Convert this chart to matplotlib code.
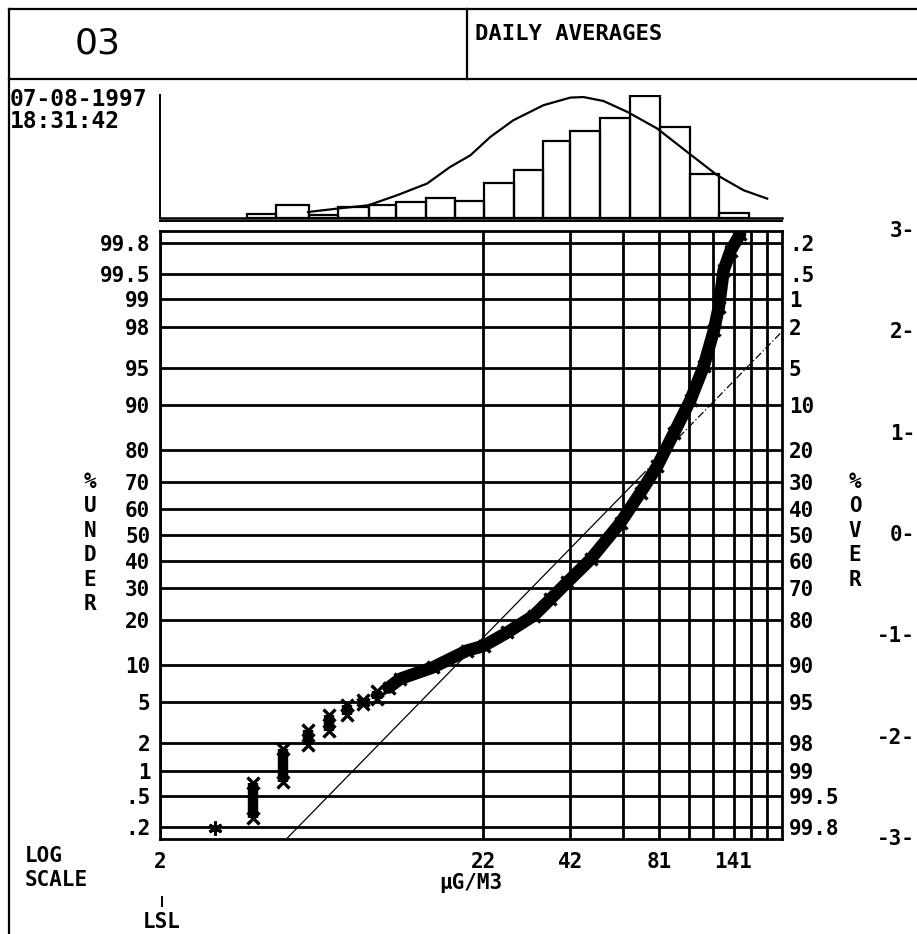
import numpy as np
import matplotlib
matplotlib.use("Agg")
import matplotlib.pyplot as plt
import matplotlib.transforms as mtransforms
from matplotlib.lines import Line2D
from statistics import NormalDist

# ---- data ----
# probability axis (% under) and the matching % over labels
under_ticks = [0.2, 0.5, 1, 2, 5, 10, 20, 30, 40, 50, 60, 70, 80, 90, 95, 98, 99, 99.5, 99.8]
under_labels = [".2", ".5", "1", "2", "5", "10", "20", "30", "40", "50", "60", "70",
                "80", "90", "95", "98", "99", "99.5", "99.8"]
over_labels = ["99.8", "99.5", "99", "98", "95", "90", "80", "70", "60", "50", "40",
               "30", "20", "10", "5", "2", "1", ".5", ".2"]
z_labels = ["3-", "2-", "1-", "0-", "-1-", "-2-", "-3-"]
z_values = [3, 2, 1, 0, -1, -2, -3]

# concentration axis (log)
x_grid = [2, 22, 42, 62, 81, 101, 121, 141, 161, 181]
x_labels = ["2", "22", "42", "", "81", "", "", "141", "", ""]
x_min, x_max = 2, 202

# low values: several days with the same value (vertical stacks)
single_value, single_pct = 3, 0.19
stack_values = [4, 5, 6, 7, 8, 9, 10]
stack_lo = [0.26, 0.74, 1.89, 2.65, 3.75, 4.8, 5.3]
stack_hi = [0.71, 1.74, 2.69, 3.8, 4.7, 5.2, 6.2]

# rest of the sorted daily averages (band of markers)
band_values = [10.9, 11.9, 15.2, 19.5, 22.1, 26.3, 32.0, 36.2, 41.0, 48.8, 61.0, 70.7,
               80.0, 90.6, 102.5, 113, 122, 126.5, 131, 138, 148]
band_pct = [6.6, 7.8, 9.6, 12.7, 13.7, 16.8, 21.3, 26.3, 32.0, 40.5, 54.9, 66.2,
            75.1, 84.3, 90.9, 95.2, 97.86, 98.79, 99.55, 99.75, 99.85]

# fitted lognormal line (solid part, then dash-dot part)
fit_values = [5.15, 70.7, 203]
fit_pct = [0.14, 71.8, 97.8]

# histogram of daily averages (% of days per class)
hist_edges = [3.81, 4.73, 6.02, 7.52, 9.40, 11.5, 14.4, 17.9, 22.1, 27.6, 34.3, 41.8,
              52.3, 65.3, 81.6, 102, 127, 158]
hist_pct = [0.6, 1.9, 0.4, 1.5, 1.9, 2.3, 2.8, 2.4, 5.0, 6.8, 10.9, 12.4, 14.2,
            17.3, 12.9, 6.2, 0.7]

# density curve drawn over the histogram
curve_values = [6.0, 7.43, 9.38, 11.6, 14.5, 17.2, 20.0, 23.2, 27.5, 34.4, 42.0, 46.3,
                53.7, 64.2, 80.1, 100, 125, 152, 181]
curve_pct = [0.85, 1.33, 1.8, 3.22, 4.88, 7.23, 8.89, 11.5, 13.86, 16.0, 17.08, 17.16,
             16.6, 15.04, 12.68, 9.36, 6.06, 3.93, 2.75]

# ---- normal probability scale ----
nd = NormalDist()
_ppf = np.vectorize(lambda p: nd.inv_cdf(min(max(p, 1e-9), 1 - 1e-9)), otypes=[float])
_cdf = np.vectorize(nd.cdf, otypes=[float])


def fwd(pct):
    return _ppf(np.asarray(pct, dtype=float) / 100.0)


def inv(z):
    return 100.0 * _cdf(np.asarray(z, dtype=float))


W, H = 917, 934
fig = plt.figure(figsize=(W / 100, H / 100), dpi=100)
FONT = dict(family="DejaVu Sans Mono", weight="bold")


def fx(x):
    return x / W


def fy(y):
    return 1 - y / H


LW = 2.0
ax = fig.add_axes([fx(160), fy(839), fx(782) - fx(160), fy(231) - fy(839)])
ax.set_xscale("log")
ax.set_yscale("function", functions=(fwd, inv))
ax.set_xlim(x_min, x_max)
ylo, yhi = float(inv(-3)), float(inv(3))
ax.set_ylim(ylo, yhi)

ax.set_xticks(x_grid, labels=x_labels)
ax.set_yticks(under_ticks, labels=under_labels)
ax.minorticks_off()
ax.tick_params(length=0, labelsize=15)
ax.tick_params(axis="x", pad=9)
ax.tick_params(axis="y", pad=7)
for lab in ax.get_xticklabels() + ax.get_yticklabels():
    lab.set_fontfamily(FONT["family"])
    lab.set_fontweight(FONT["weight"])
ax.grid(True, color="black", linewidth=LW)
ax.set_axisbelow(True)
for sp in ax.spines.values():
    sp.set_linewidth(LW)

ax2 = ax.twinx()
ax2.set_yscale("function", functions=(fwd, inv))
ax2.set_ylim(ylo, yhi)
ax2.set_yticks(under_ticks, labels=over_labels)
ax2.minorticks_off()
ax2.tick_params(length=0, labelsize=15, pad=5)
for lab in ax2.get_yticklabels():
    lab.set_fontfamily(FONT["family"])
    lab.set_fontweight(FONT["weight"])
for sp in ax2.spines.values():
    sp.set_visible(False)

# fitted line
ax.plot(fit_values[:2], fit_pct[:2], color="black", lw=0.9, zorder=3)
ax.plot(fit_values[1:], fit_pct[1:], color="black", lw=0.9, ls=(0, (6, 2, 1, 2)), zorder=3)

# data markers
ax.plot([single_value], [single_pct], ls="none", marker=(6, 2, 0), ms=10, mew=2.2,
        color="black", zorder=4)
for v, lo, hi in zip(stack_values, stack_lo, stack_hi):
    ax.plot([v, v], [lo, hi], color="black", lw=7.5, solid_capstyle="butt", zorder=4)
    ax.plot([v, v], [lo, hi], ls="none", marker="x", ms=8, mew=2.4, color="black", zorder=4)
ax.plot(band_values, band_pct, color="black", lw=9, solid_capstyle="round",
        solid_joinstyle="round", zorder=4)
ax.plot(band_values, band_pct, ls="none", marker="x", ms=9, mew=2.4, color="black", zorder=4)

# histogram above
axh = fig.add_axes([fx(160), fy(218), fx(782) - fx(160), fy(95) - fy(218)], sharex=ax)
axh.bar(hist_edges[:-1], hist_pct, width=np.diff(hist_edges), align="edge",
        fill=False, edgecolor="black", linewidth=1.6)
axh.plot(curve_values, curve_pct, color="black", lw=1.6)
axh.set_ylim(0, 17.45)
axh.set_yticks([])
axh.tick_params(axis="x", which="both", length=0, labelbottom=False)
for side in ("top", "right"):
    axh.spines[side].set_visible(False)
axh.spines["left"].set_linewidth(1.4)
axh.spines["bottom"].set_linewidth(1.8)
axh.plot([0, 1], [-0.028, -0.028], transform=axh.transAxes, color="black", lw=1.4,
         clip_on=False)

# frame and header
for (x0, y0, x1, y1) in [(9, 9, W, 9), (9, 9, 9, H), (9, 79, W, 79), (467, 9, 467, 79)]:
    fig.add_artist(Line2D([fx(x0), fx(x1)], [fy(y0), fy(y1)], color="black", lw=1.6))

fig.text(fx(98), fy(43), "03", fontsize=26, family="DejaVu Sans", ha="center", va="center")
fig.text(fx(475), fy(24), "DAILY AVERAGES", fontsize=16, ha="left", va="top", **FONT)
fig.text(fx(10), fy(99), "07-08-1997", fontsize=16.5, ha="left", va="center", **FONT)
fig.text(fx(10), fy(121), "18:31:42", fontsize=16.5, ha="left", va="center", **FONT)

for i, ch in enumerate("%UNDER"):
    fig.text(fx(90), fy(482 + 24.4 * i), ch, fontsize=15, ha="center", va="center", **FONT)
for i, ch in enumerate("%OVER"):
    fig.text(fx(855), fy(482 + 24.4 * i), ch, fontsize=15, ha="center", va="center", **FONT)

ztrans = mtransforms.blended_transform_factory(fig.transFigure, ax.transData)
for lab, z in zip(z_labels, z_values):
    ax.text(fx(915), float(inv(z)), lab, transform=ztrans, fontsize=15, ha="right",
            va="center", clip_on=False, **FONT)

fig.text(fx(25), fy(856), "LOG", fontsize=15, ha="left", va="center", **FONT)
fig.text(fx(25), fy(880), "SCALE", fontsize=15, ha="left", va="center", **FONT)
fig.text(fx(471), fy(883), "\u00b5G/M3", fontsize=15, ha="center", va="center", **FONT)
fig.text(fx(162), fy(922), "LSL", fontsize=15, ha="center", va="center", **FONT)
fig.add_artist(Line2D([fx(162), fx(162)], [fy(897), fy(906)], color="black", lw=1.4))

fig.savefig("out.png", dpi=100)
